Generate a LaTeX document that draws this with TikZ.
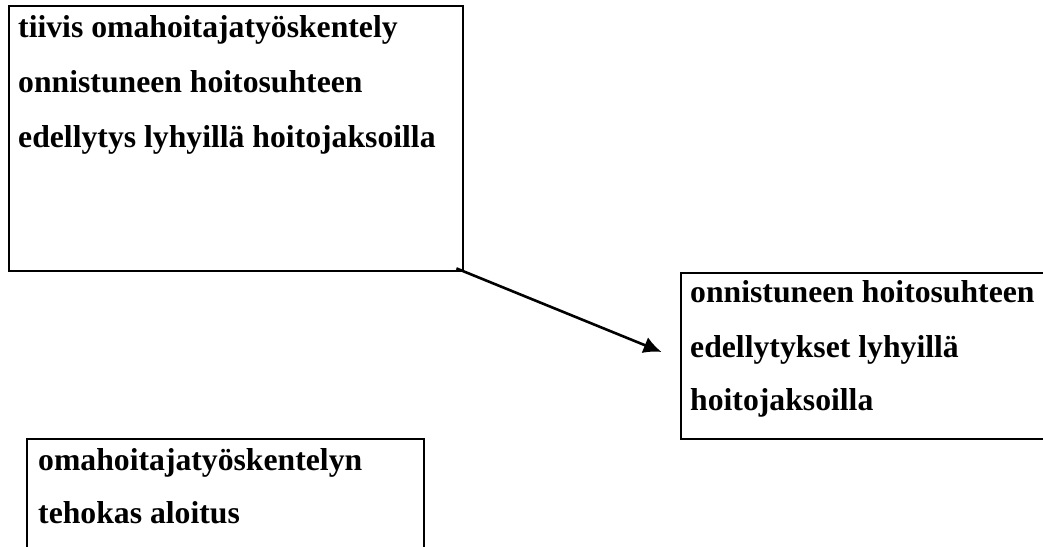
\documentclass[tikz,border=0pt]{standalone}
\usepackage{fontspec}
\setmainfont{Liberation Serif}
\usetikzlibrary{calc,arrows.meta}
\begin{document}
\begin{tikzpicture}[x=1pt,y=-1pt,
  frame/.style={draw=black,line width=2.8pt,inner sep=0pt},
  label/.style={anchor=base west,inner sep=0pt,font=\fontsize{31.7}{38}\selectfont\bfseries},
  link/.style={draw=black,line width=2.6pt,-{Latex[length=18pt,width=17pt]}}]
  \useasboundingbox (0,0) rectangle (1043,546);
  \clip (0,0) rectangle (1043,546);

  % three frames
  \node[frame,minimum width=454pt,minimum height=265pt] (b1) at (236,138.5) {};
  \node[frame,minimum width=369pt,minimum height=166pt] (b2) at (865.5,356) {};
  \node[frame,minimum width=397pt,minimum height=130pt] (b3) at (225.5,504) {};

  % texts
  \node[label] (t11) at (18,37) {tiivis omahoitajatyöskentely};
  \node[label] (t12) at (18,92) {onnistuneen hoitosuhteen};
  \node[label] (t13) at (18,147) {edellytys lyhyillä hoitojaksoilla};

  \node[label] (t21) at (690,302) {onnistuneen hoitosuhteen};
  \node[label] (t22) at (690,357) {edellytykset lyhyillä};
  \node[label] (t23) at (690,410) {hoitojaksoilla};

  \node[label] (t31) at (38,470) {omahoitajatyöskentelyn};
  \node[label] (t32) at (38,523) {tehokas aloitus};

  % connector
  \draw[link] ($(b1.south east)+(-8,-4)$) -- ($(b2.west)+(-18,-4)$);
\end{tikzpicture}
\end{document}
